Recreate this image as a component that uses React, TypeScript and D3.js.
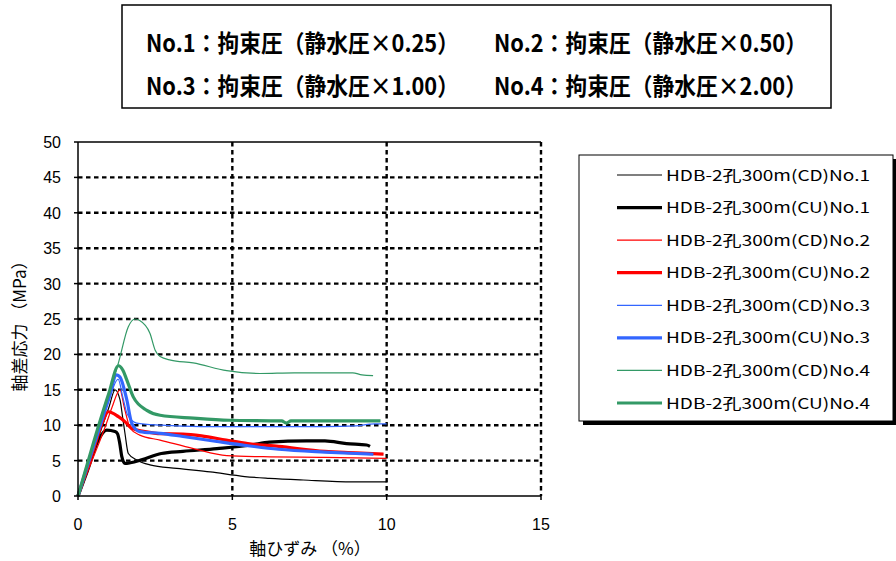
import React from 'react';
import * as d3 from 'd3';

// 軸ひずみ (%), 軸差応力 (MPa)
const cd1: Array<[number, number]> = [[0, 0], [0.6, 7.5], [1.0, 12.5], [1.2, 15.0], [1.36, 13.6], [1.45, 11], [1.52, 8.9], [1.63, 6.0], [1.9, 5.1], [2.33, 4.4], [3.2, 3.9], [4.28, 3.4], [5.4, 2.75], [6.2, 2.5], [7.3, 2.26], [8.9, 2.0], [10.0, 2.0]];
const cu1: Array<[number, number]> = [[0, 0], [0.3, 3.5], [0.66, 7.9], [0.93, 9.3], [1.2, 9.1], [1.28, 8.8], [1.35, 7.5], [1.42, 5.55], [1.52, 4.6], [1.7, 4.7], [2.06, 5.1], [2.7, 6.0], [3.4, 6.3], [4.5, 6.7], [5.6, 7.2], [6.2, 7.6], [7.4, 7.8], [8.0, 7.8], [8.7, 7.4], [9.35, 7.2], [9.46, 7.0]];
const cd2: Array<[number, number]> = [[0, 0], [0.5, 5.5], [0.9, 10.0], [1.1, 12.5], [1.36, 15.0], [1.5, 12.5], [1.7, 9.5], [2.0, 8.6], [2.66, 7.9], [3.74, 6.7], [4.82, 5.7], [6.0, 5.55], [8.0, 5.45], [10.0, 5.3]];
const cu2: Array<[number, number]> = [[0, 0], [0.5, 6.5], [0.8, 10.5], [0.98, 11.9], [1.31, 11.2], [1.52, 10.5], [1.74, 9.55], [2.17, 9.1], [2.7, 8.8], [3.4, 8.75], [4.0, 8.5], [4.8, 7.9], [5.5, 7.4], [6.5, 7.0], [8.0, 6.3], [9.0, 6.1], [9.9, 5.9]];
const cd3: Array<[number, number]> = [[0, 0], [0.6, 8], [1.0, 13.5], [1.3, 16.5], [1.45, 14], [1.6, 11.5], [1.9, 10.3], [2.7, 10.0], [4, 9.8], [6, 9.8], [8, 9.8], [9.0, 9.9], [9.6, 10.2], [10.0, 10.2]];
const cu3: Array<[number, number]> = [[0, 0], [0.5, 7], [1.0, 13.8], [1.25, 17.1], [1.36, 16.8], [1.58, 13.6], [1.74, 10.3], [2.0, 9.1], [2.66, 8.85], [3.4, 8.4], [4.5, 7.7], [5.5, 7.1], [6.5, 6.6], [8.0, 6.2], [9.0, 6.0], [9.57, 5.9]];
const cd4: Array<[number, number]> = [[0, 0], [0.5, 7.5], [1.0, 14.5], [1.31, 18.8], [1.63, 23.9], [1.85, 25.0], [2.0, 24.8], [2.33, 23.0], [2.5, 20.6], [2.66, 19.7], [3.0, 19.2], [3.73, 18.8], [4.82, 17.7], [5.9, 17.3], [7, 17.4], [8.9, 17.4], [9.2, 17.1], [9.56, 17.0]];
const cu4: Array<[number, number]> = [[0, 0], [0.5, 7.5], [1.0, 14.5], [1.31, 18.4], [1.45, 17.8], [1.58, 16.4], [1.79, 14.0], [2.23, 12.1], [2.66, 11.4], [3.74, 11.0], [4.9, 10.7], [6.6, 10.6], [6.75, 10.3], [6.9, 10.6], [9.8, 10.6]];

const seriesNames = ['HDB-2孔300m(CD)No.1', 'HDB-2孔300m(CU)No.1', 'HDB-2孔300m(CD)No.2', 'HDB-2孔300m(CU)No.2', 'HDB-2孔300m(CD)No.3', 'HDB-2孔300m(CU)No.3', 'HDB-2孔300m(CD)No.4', 'HDB-2孔300m(CU)No.4'];
const seriesData = [cd1, cu1, cd2, cu2, cd3, cu3, cd4, cu4];
const seriesColors = ['#000000', '#000000', '#ff0000', '#ff0000', '#3366ff', '#3366ff', '#339966', '#339966'];
const seriesWidths = [1.2, 3.2, 1.2, 3.2, 1.2, 3.2, 1.2, 3.2];

const titleLines = [
  ['No.1：拘束圧（静水圧×0.25）', 'No.2：拘束圧（静水圧×0.50）'],
  ['No.3：拘束圧（静水圧×1.00）', 'No.4：拘束圧（静水圧×2.00）'],
];
const xTicks = [0, 5, 10, 15];
const yTicks = [0, 5, 10, 15, 20, 25, 30, 35, 40, 45, 50];

const jp = '"Noto Sans CJK JP", "Noto Sans", sans-serif';
const num = '"Liberation Sans", Arial, sans-serif';

export default function App() {
  const x = d3.scaleLinear().domain([0, 15]).range([78, 541]);
  const y = d3.scaleLinear().domain([0, 50]).range([496, 142]);
  const line = d3
    .line<[number, number]>()
    .x(d => x(d[0]))
    .y(d => y(d[1]))
    .curve(d3.curveMonotoneX);

  const legendY = d3.scaleLinear().domain([0, 7]).range([175, 403]);

  return (
    <svg width={896} height={561} style={{ position: 'absolute', left: 0, top: 0, background: '#fff' }}>
      {/* title box */}
      <rect x={122} y={5} width={709} height={103} fill="#fff" stroke="#000" strokeWidth={1.5} />
      {titleLines.map((row, i) =>
        row.map((t, j) => (
          <text
            key={`${i}-${j}`}
            x={j === 0 ? 146 : 494}
            y={i === 0 ? 52 : 95}
            fontFamily={jp}
            fontWeight="bold"
            fontSize={24}
            textLength={313}
            lengthAdjust="spacingAndGlyphs"
          >
            {t}
          </text>
        ))
      )}

      {/* gridlines */}
      {yTicks.filter(v => v > 0 && v < 50).map(v => (
        <line key={'gy' + v} x1={x(0)} x2={x(15)} y1={y(v)} y2={y(v)} stroke="#000" strokeWidth={2.4} strokeDasharray="4.5 3.5" />
      ))}
      {xTicks.filter(v => v > 0).map(v => (
        <line key={'gx' + v} x1={x(v)} x2={x(v)} y1={y(50)} y2={y(0)} stroke="#000" strokeWidth={2.4} strokeDasharray="4.5 3.5" />
      ))}
      <line x1={x(0)} x2={x(15)} y1={y(50)} y2={y(50)} stroke="#000" strokeWidth={1.5} />

      {/* series */}
      {seriesData.map((d, i) => (
        <path key={'s' + i} d={line(d) || ''} fill="none" stroke={seriesColors[i]} strokeWidth={seriesWidths[i]} strokeLinejoin="round" />
      ))}

      {/* axes */}
      <line x1={x(0)} x2={x(0)} y1={y(50)} y2={y(0)} stroke="#000" strokeWidth={1.5} />
      <line x1={x(0)} x2={x(15)} y1={y(0)} y2={y(0)} stroke="#000" strokeWidth={1.5} />
      {yTicks.map(v => (
        <g key={'yt' + v}>
          <line x1={x(0) - 4} x2={x(0)} y1={y(v)} y2={y(v)} stroke="#000" strokeWidth={1.5} />
          <text x={61} y={y(v) + 6} textAnchor="end" fontFamily={num} fontSize={16}>{v}</text>
        </g>
      ))}
      {xTicks.map(v => (
        <g key={'xt' + v}>
          <line x1={x(v)} x2={x(v)} y1={y(0)} y2={y(0) + 4} stroke="#000" strokeWidth={1.5} />
          <text x={x(v)} y={530} textAnchor="middle" fontFamily={num} fontSize={16}>{v}</text>
        </g>
      ))}
      <text x={310} y={555} textAnchor="middle" fontFamily={jp} fontSize={17}>軸ひずみ （%）</text>
      <text transform="translate(26,322) rotate(-90)" textAnchor="middle" fontFamily={jp} fontSize={17}>軸差応力 （MPa）</text>

      {/* legend */}
      <rect x={583} y={159} width={314} height={266} fill="#000" />
      <rect x={579} y={155} width={314} height={266} fill="#fff" stroke="#000" strokeWidth={1} />
      {seriesNames.map((n, i) => (
        <g key={'lg' + i}>
          <line x1={617} x2={662} y1={legendY(i)} y2={legendY(i)} stroke={seriesColors[i]} strokeWidth={seriesWidths[i]} />
          <text x={666} y={legendY(i) + 5.5} fontFamily={jp} fontSize={15} textLength={204} lengthAdjust="spacingAndGlyphs">{n}</text>
        </g>
      ))}
    </svg>
  );
}
